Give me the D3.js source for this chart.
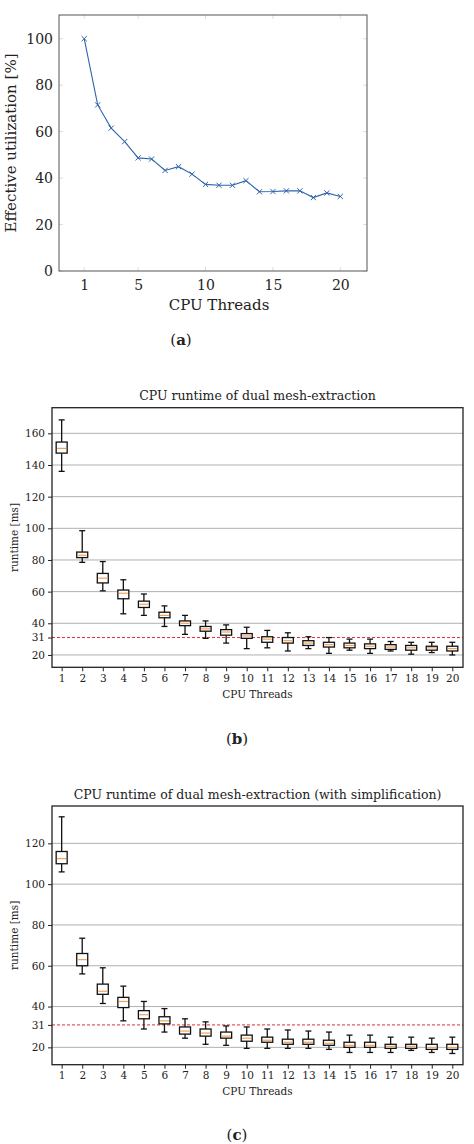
<!DOCTYPE html>
<html><head><meta charset="utf-8">
<script src="https://cdn.jsdelivr.net/npm/d3@7"></script>
<style>body{margin:0;background:#fff}text{font-family:"DejaVu Serif","Liberation Serif",serif;fill:#222}</style>
</head><body><svg id="s" width="474" height="1144"></svg>
<script>
const threads = d3.range(1, 21);
const utilization = [100,71.5,61.5,55.7,48.7,48.2,43.3,44.9,41.7,37.3,36.9,36.9,38.9,34.1,34.2,34.5,34.5,31.6,33.6,32.1];
const utilTicks = [0,20,40,60,80,100];
const utilXTicks = [1,5,10,15,20];
// [whiskerLow, q1, median, q3, whiskerHigh]
const boxesB = [[136,147.5,150.5,154.5,168.5],[78.5,81.5,83,85,98.5],[60.5,65.5,68.5,71.5,79],[46,55.5,59,61,67.5],[45,50,52,54,58.5],[38,43.5,45,47,51],[33,38.5,40,41.5,45],[30.5,35,36.5,38,41.5],[27.5,32.5,34.5,36,39],[24,30.5,32,33.5,37.5],[24.5,28,30,31.5,35.5],[22.5,27.5,29,31,34],[24,26,27.5,29,31.5],[21,25,26.5,28,31],[23,24.5,26,27.5,30],[21,24,25.5,27,30],[22.5,23.5,25,26.5,28.5],[20.5,23,24.5,26,28],[21.5,23,24.5,25.5,28],[20,22.5,24,25.5,28]];
const boxesC = [[106,110,112.5,116,133],[56,60,63,66,73.5],[41.5,46,47.5,51,59],[33,39.5,42.5,44.5,50],[29,34,36,38,42.5],[27.5,31.5,33,35,39],[24.5,26.5,28,30,34],[21.5,25.5,27,29,32.5],[21,24.5,25.5,27.5,30.5],[19.5,23,24.5,26,30],[19.5,22.5,23.5,25,29],[19.5,21.5,22.5,24,28.5],[19.5,21.5,22.5,24,28],[19,21,22,23.5,27.5],[17.5,20,21,22.5,26],[17.5,20,21,22.5,26],[17.5,19.5,20.5,21.5,25],[18.5,19.5,20.5,21.5,25],[17.5,19,20,21.5,24.5],[17,19,20,21.5,25]];
const ticksB = [20,31,40,60,80,100,120,140,160];
const ticksC = [20,31,40,60,80,100,120];
const threshold = 31;

const svg = d3.select("#s");

// ---- Chart (a)
{
  const L=59,R=367,T=15,B=271;
  const x=d3.scaleLinear().domain([-0.87,21.98]).range([L,R]);
  const y=d3.scaleLinear().domain([0,110.2]).range([B,T]);
  const g=svg.append("g");
  g.append("g").attr("transform",`translate(0,${B})`).call(d3.axisBottom(x).tickValues(utilXTicks).tickSize(0).tickPadding(9))
   .call(a=>{a.select(".domain").remove();a.selectAll("text").attr("font-size",14);});
  g.append("g").attr("transform",`translate(${L},0)`).call(d3.axisLeft(y).tickValues(utilTicks).tickSize(0).tickPadding(6))
   .call(a=>{a.select(".domain").remove();a.selectAll("text").attr("font-size",14);});
  // faint tick marks
  utilXTicks.forEach(v=>{g.append("line").attr("x1",x(v)).attr("x2",x(v)).attr("y1",B).attr("y2",B-4).attr("stroke","#ddd");g.append("line").attr("x1",x(v)).attr("x2",x(v)).attr("y1",T).attr("y2",T+4).attr("stroke","#ddd");});
  utilTicks.forEach(v=>{g.append("line").attr("x1",L).attr("x2",L+4).attr("y1",y(v)).attr("y2",y(v)).attr("stroke","#ddd");g.append("line").attr("x1",R).attr("x2",R-4).attr("y1",y(v)).attr("y2",y(v)).attr("stroke","#ddd");});
  g.append("rect").attr("x",L).attr("y",T).attr("width",R-L).attr("height",B-T).attr("fill","none").attr("stroke","#555").attr("stroke-width",1);
  const col="#2f64ab";
  g.append("path").datum(utilization).attr("fill","none").attr("stroke",col).attr("stroke-width",1.1)
   .attr("d",d3.line().x((d,i)=>x(threads[i])).y(d=>y(d)));
  g.selectAll(".m").data(utilization).enter().append("path").attr("stroke",col).attr("stroke-width",1)
   .attr("d",(d,i)=>{const cx=x(threads[i]),cy=y(d),s=2.6;return `M${cx-s},${cy-s}L${cx+s},${cy+s}M${cx-s},${cy+s}L${cx+s},${cy-s}`;});
  g.append("text").attr("x",(L+R)/2+6).attr("y",310).attr("text-anchor","middle").attr("font-size",15).text("CPU Threads");
  g.append("text").attr("transform",`translate(16,${(T+B)/2}) rotate(-90)`).attr("text-anchor","middle").attr("font-size",15).text("Effective utilization [%]");
  g.append("text").attr("x",181).attr("y",345).attr("text-anchor","middle").attr("font-size",15).html('(<tspan font-weight="bold">a</tspan>)');
}

function boxChart(data,ticks,dom,T,B,title,titleY,xlabY,capY,cap){
  const L=52,R=463;
  const x=d3.scaleLinear().domain([0.53,20.52]).range([L,R]);
  const y=d3.scaleLinear().domain(dom).range([B,T]);
  const g=svg.append("g");
  ticks.filter(v=>v!==threshold).forEach(v=>g.append("line").attr("x1",L).attr("x2",R).attr("y1",y(v)).attr("y2",y(v)).attr("stroke","#b0b0b0").attr("stroke-width",1));
  g.append("line").attr("x1",L).attr("x2",R).attr("y1",y(threshold)).attr("y2",y(threshold)).attr("stroke","#e0303a").attr("stroke-width",1).attr("stroke-dasharray","3,2");
  g.append("g").attr("transform",`translate(${L},0)`).call(d3.axisLeft(y).tickValues(ticks).tickSize(4).tickPadding(3))
   .call(a=>{a.select(".domain").remove();a.selectAll("text").attr("font-size",10.5);a.selectAll("line").attr("stroke","#222");});
  g.append("g").attr("transform",`translate(0,${B})`).call(d3.axisBottom(x).tickValues(threads).tickSize(4).tickPadding(3))
   .call(a=>{a.select(".domain").remove();a.selectAll("text").attr("font-size",10.5);a.selectAll("line").attr("stroke","#222");});
  const bw=11,cw=6;
  data.forEach((d,i)=>{
    const cx=x(threads[i]);
    const s=g.append("g").attr("stroke","#111").attr("stroke-width",1.3);
    s.append("line").attr("x1",cx).attr("x2",cx).attr("y1",y(d[0])).attr("y2",y(d[1]));
    s.append("line").attr("x1",cx).attr("x2",cx).attr("y1",y(d[3])).attr("y2",y(d[4]));
    s.append("line").attr("x1",cx-cw/2).attr("x2",cx+cw/2).attr("y1",y(d[0])).attr("y2",y(d[0]));
    s.append("line").attr("x1",cx-cw/2).attr("x2",cx+cw/2).attr("y1",y(d[4])).attr("y2",y(d[4]));
    s.append("rect").attr("x",cx-bw/2).attr("y",y(d[3])).attr("width",bw).attr("height",y(d[1])-y(d[3])).attr("fill","#fff");
    g.append("line").attr("x1",cx-bw/2+1).attr("x2",cx+bw/2-1).attr("y1",y(d[2])).attr("y2",y(d[2])).attr("stroke","#f5a050").attr("stroke-width",1.2);
  });
  g.append("rect").attr("x",L).attr("y",T).attr("width",R-L).attr("height",B-T).attr("fill","none").attr("stroke","#222").attr("stroke-width",1.3);
  g.append("text").attr("x",(L+R)/2).attr("y",titleY).attr("text-anchor","middle").attr("font-size",12.5).text(title);
  g.append("text").attr("x",(L+R)/2).attr("y",xlabY).attr("text-anchor","middle").attr("font-size",10.5).text("CPU Threads");
  g.append("text").attr("transform",`translate(18,${(T+B)/2}) rotate(-90)`).attr("text-anchor","middle").attr("font-size",10.5).text("runtime [ms]");
  g.append("text").attr("x",237).attr("y",capY).attr("text-anchor","middle").attr("font-size",15).html(`(<tspan font-weight="bold">${cap}</tspan>)`);
}
boxChart(boxesB,ticksB,[12.2,176.2],407.7,667.3,"CPU runtime of dual mesh-extraction",400,698,744,"b");
boxChart(boxesC,ticksC,[11.5,138.3],806,1064.7,"CPU runtime of dual mesh-extraction (with simplification)",799,1095,1140,"c");
</script></body></html>
